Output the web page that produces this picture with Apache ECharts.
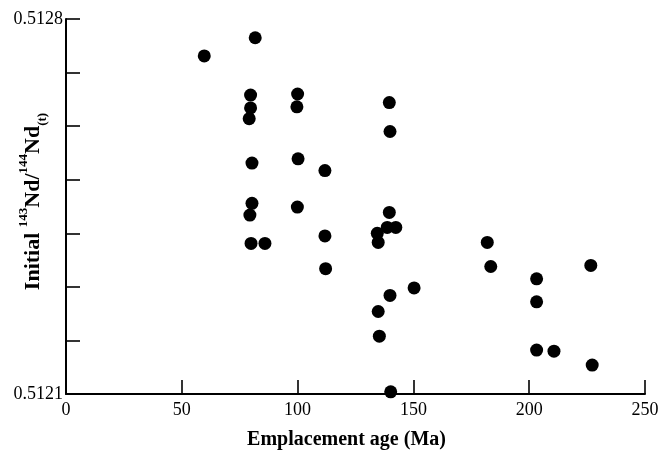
<!DOCTYPE html>
<html>
<head>
<meta charset="utf-8">
<script src="https://cdn.jsdelivr.net/npm/echarts@6/dist/echarts.min.js"></script>
<style>
  html, body { margin: 0; padding: 0; background: #fff; }
  #chart { width: 660px; height: 455px; }
</style>
</head>
<body>
<div id="chart"></div>
<script>
// Emplacement age (Ma) of each sample
const ages = [
  59.7, 81.7, 79.7, 79.7, 79.1, 100.0, 99.7, 80.3, 100.2, 111.8,
  80.3, 79.4, 99.9, 79.9, 85.9, 111.8, 112.1,
  139.6, 139.9, 139.6, 138.7, 142.4, 134.4, 134.8, 150.3, 139.9, 134.8, 135.3, 140.2,
  181.9, 183.4, 203.2, 203.2, 226.6, 203.2, 210.7, 227.2
];
// Initial 143Nd/144Nd(t) of each sample
const ndRatios = [
  0.512731, 0.512765, 0.512658, 0.512634, 0.512614, 0.512660, 0.512636, 0.512531, 0.512539, 0.512517,
  0.512456, 0.512434, 0.512449, 0.512381, 0.512381, 0.512395, 0.512334,
  0.512644, 0.512590, 0.512439, 0.512411, 0.512411, 0.512400, 0.512383, 0.512298, 0.512284, 0.512254, 0.512208, 0.512104,
  0.512383, 0.512338, 0.512315, 0.512272, 0.512340, 0.512182, 0.512180, 0.512154
];
// Labelled ticks on the ratio axis
const yTickLabels = ['0.5121', '0.5128'];
const xTickLabels = ['0', '50', '100', '150', '200', '250'];

const points = ages.map((a, i) => [a, ndRatios[i]]);

const serif = '"Liberation Serif", "Times New Roman", serif';

const chart = echarts.init(document.getElementById('chart'), null, { renderer: 'canvas' });
chart.setOption({
  animation: false,
  backgroundColor: '#ffffff',
  grid: { left: 66, right: 15, top: 19, bottom: 61, containLabel: false, outerBoundsMode: 'none' },
  xAxis: {
    type: 'value',
    min: 0,
    max: 250,
    interval: 50,
    name: 'Emplacement age (Ma)',
    nameLocation: 'middle',
    nameGap: 36,
    nameMoveOverlap: false,
    nameTextStyle: { fontFamily: serif, fontWeight: 'bold', fontSize: 20, color: '#000', padding: [0, 18, 0, 0] },
    axisLine: { show: true, lineStyle: { color: '#000', width: 2 } },
    axisTick: { show: true, inside: true, length: 14, lineStyle: { color: '#000', width: 1.6 } },
    axisLabel: {
      margin: 7,
      fontFamily: serif,
      fontSize: 18,
      color: '#000',
      formatter: v => xTickLabels.includes(String(Math.round(v))) ? String(Math.round(v)) : ''
    },
    splitLine: { show: false }
  },
  yAxis: {
    type: 'value',
    min: 0.5121,
    max: 0.5128,
    interval: 0.0001,
    name: '{m|Initial }{sup|143}{m|Nd/}{sup|144}{m|Nd}{sub|(t)}',
    nameLocation: 'middle',
    nameRotate: 90,
    nameGap: 17,
    nameMoveOverlap: false,
    nameTextStyle: {
      color: '#000',
      padding: [0, 0, 0, 10],
      rich: {
        m: { fontFamily: serif, fontWeight: 'bold', fontSize: 22, lineHeight: 32, color: '#000' },
        sup: { fontFamily: serif, fontWeight: 'bold', fontSize: 13, verticalAlign: 'top', lineHeight: 32, color: '#000' },
        sub: { fontFamily: serif, fontWeight: 'bold', fontSize: 13, verticalAlign: 'bottom', lineHeight: 32, color: '#000' }
      }
    },
    axisLine: { show: true, lineStyle: { color: '#000', width: 2 } },
    axisTick: { show: true, inside: true, length: 14, lineStyle: { color: '#000', width: 1.6 } },
    axisLabel: {
      margin: 3,
      fontFamily: serif,
      fontSize: 18,
      color: '#000',
      formatter: v => {
        const s = Number(v).toFixed(4);
        return yTickLabels.includes(s) ? s : '';
      }
    },
    splitLine: { show: false }
  },
  series: [{
    type: 'scatter',
    data: points,
    symbol: 'circle',
    symbolSize: 13,
    itemStyle: { color: '#000', opacity: 1 },
    emphasis: { disabled: true }
  }]
});
</script>
</body>
</html>
